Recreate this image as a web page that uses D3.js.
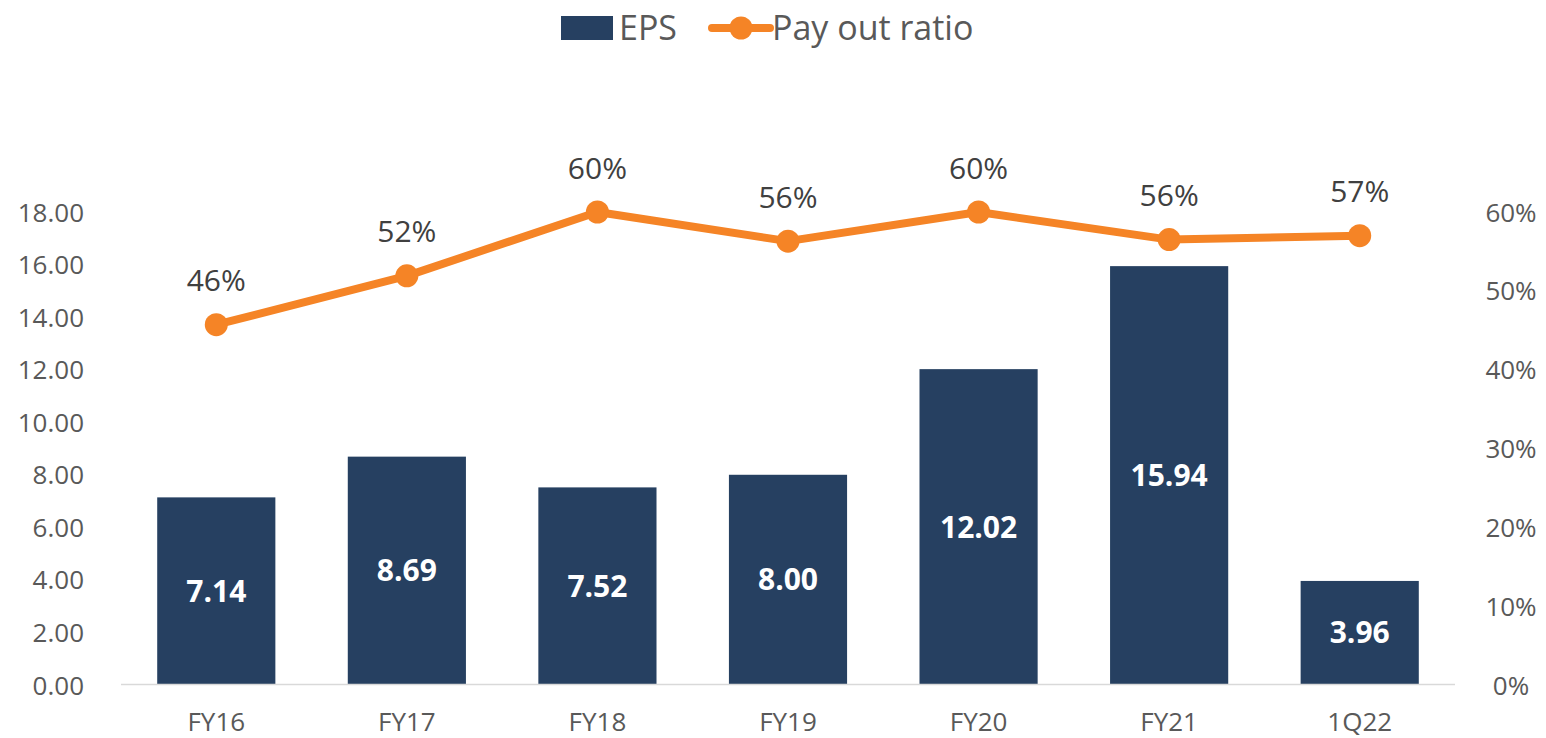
<!DOCTYPE html>
<html>
<head>
<meta charset="utf-8">
<script src="https://cdn.jsdelivr.net/npm/d3@7"></script>
<style>
  body { margin: 0; background: #fff; }
  text { font-family: "Open Sans", sans-serif; }
</style>
</head>
<body>
<svg id="chart" width="1546" height="738"></svg>
<script>
// data
var categories = ["FY16", "FY17", "FY18", "FY19", "FY20", "FY21", "1Q22"];
var eps = [7.14, 8.69, 7.52, 8.00, 12.02, 15.94, 3.96];
var payout = [0.457, 0.519, 0.600, 0.563, 0.600, 0.565, 0.570];
var leftTicks = [0, 2, 4, 6, 8, 10, 12, 14, 16, 18];
var rightTicks = [0, 0.1, 0.2, 0.3, 0.4, 0.5, 0.6];

var barColor = "#264061";
var lineColor = "#f58426";
var tickColor = "#595959";

var svg = d3.select("#chart");

var margin = {left: 121, right: 1455, top: 212, bottom: 685};

var x = d3.scaleBand()
    .domain(categories)
    .range([margin.left, margin.right])
    .paddingInner(0.38)
    .paddingOuter(0.19);

var y = d3.scaleLinear().domain([0, 18]).range([margin.bottom, margin.top]);
var y2 = d3.scaleLinear().domain([0, 0.6]).range([margin.bottom, margin.top]);

// left axis
var leftAxis = svg.append("g")
    .attr("transform", "translate(84,0)")
    .call(d3.axisLeft(y).tickValues(leftTicks).tickFormat(d3.format(".2f")).tickSize(0).tickPadding(0));
leftAxis.select(".domain").remove();
leftAxis.selectAll("text")
    .attr("fill", tickColor)
    .style("font-size", "26px")
    .attr("dy", "0.35em");

// right axis
var rightAxis = svg.append("g")
    .attr("transform", "translate(1511,0)")
    .call(d3.axisRight(y2).tickValues(rightTicks).tickFormat(d3.format(".0%")).tickSize(0).tickPadding(0));
rightAxis.select(".domain").remove();
rightAxis.selectAll("text")
    .attr("fill", tickColor)
    .attr("text-anchor", "middle")
    .style("font-size", "26px")
    .attr("dy", "0.35em");

// bars
svg.selectAll(".bar")
    .data(eps)
    .enter()
    .append("rect")
    .attr("class", "bar")
    .attr("x", function(d, i){ return x(categories[i]); })
    .attr("width", x.bandwidth())
    .attr("y", function(d){ return y(d); })
    .attr("height", function(d){ return y(0) - y(d); })
    .attr("fill", barColor);

// baseline
svg.append("line")
    .attr("x1", margin.left).attr("x2", margin.right)
    .attr("y1", y(0) - 0.5).attr("y2", y(0) - 0.5)
    .attr("stroke", "#d9d9d9")
    .attr("stroke-width", 1.5);

// x axis labels
var bottomAxis = svg.append("g")
    .attr("transform", "translate(0," + y(0) + ")")
    .call(d3.axisBottom(x).tickSize(0).tickPadding(0));
bottomAxis.select(".domain").remove();
bottomAxis.selectAll("text")
    .attr("fill", tickColor)
    .style("font-size", "26px")
    .attr("y", 37)
    .attr("dy", "0.35em");

// bar value labels
svg.selectAll(".barLabel")
    .data(eps)
    .enter()
    .append("text")
    .attr("class", "barLabel")
    .attr("x", function(d, i){ return x(categories[i]) + x.bandwidth() / 2; })
    .attr("y", function(d){ return (y(d) + y(0)) / 2; })
    .attr("dy", "0.35em")
    .attr("text-anchor", "middle")
    .attr("fill", "#fff")
    .style("font-size", "30px")
    .style("font-weight", "bold")
    .text(function(d){ return d3.format(".2f")(d); });

// pay out ratio line
var line = d3.line()
    .x(function(d, i){ return x(categories[i]) + x.bandwidth() / 2; })
    .y(function(d){ return y2(d); });

svg.append("path")
    .datum(payout)
    .attr("d", line)
    .attr("fill", "none")
    .attr("stroke", lineColor)
    .attr("stroke-width", 8)
    .attr("stroke-linejoin", "round");

svg.selectAll(".dot")
    .data(payout)
    .enter()
    .append("circle")
    .attr("class", "dot")
    .attr("cx", function(d, i){ return x(categories[i]) + x.bandwidth() / 2; })
    .attr("cy", function(d){ return y2(d); })
    .attr("r", 11.5)
    .attr("fill", lineColor);

svg.selectAll(".lineLabel")
    .data(payout)
    .enter()
    .append("text")
    .attr("class", "lineLabel")
    .attr("x", function(d, i){ return x(categories[i]) + x.bandwidth() / 2; })
    .attr("y", function(d){ return y2(d) - 44; })
    .attr("dy", "0.35em")
    .attr("text-anchor", "middle")
    .attr("fill", "#404040")
    .style("font-size", "30px")
    .text(function(d){ return d3.format(".0%")(d); });

// legend
var legend = svg.append("g");
legend.append("rect")
    .attr("x", 561).attr("y", 16)
    .attr("width", 52).attr("height", 24)
    .attr("fill", barColor);
legend.append("text")
    .attr("x", 619).attr("y", 28)
    .attr("dy", "0.35em")
    .attr("fill", tickColor)
    .style("font-size", "34px")
    .text("EPS");
legend.append("line")
    .attr("x1", 712).attr("x2", 770)
    .attr("y1", 28).attr("y2", 28)
    .attr("stroke", lineColor)
    .attr("stroke-width", 8)
    .attr("stroke-linecap", "round");
legend.append("circle")
    .attr("cx", 741).attr("cy", 28)
    .attr("r", 11.5)
    .attr("fill", lineColor);
legend.append("text")
    .attr("x", 772).attr("y", 28)
    .attr("dy", "0.35em")
    .attr("fill", tickColor)
    .style("font-size", "34px")
    .text("Pay out ratio");
</script>
</body>
</html>
